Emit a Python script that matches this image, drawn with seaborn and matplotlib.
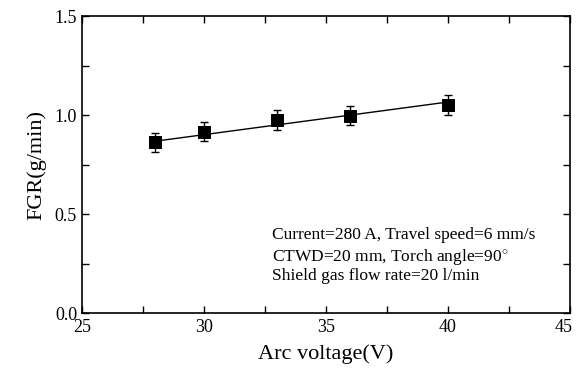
import matplotlib
matplotlib.use("Agg")
import matplotlib.pyplot as plt
import matplotlib.transforms as mtransforms
import seaborn as sns
import pandas as pd
from matplotlib.ticker import MultipleLocator

# data
arc_voltage = [28, 30, 33, 36, 40]
fgr = [0.862, 0.916, 0.975, 0.997, 1.05]
fgr_err = [0.049, 0.049, 0.049, 0.049, 0.049]
fit_x = [28, 40]
fit_y = [0.868, 1.066]

annotation_lines = [
    "Current=280 A, Travel speed=6 mm/s",
    "CTWD=20 mm, Torch angle=90$^{\\circ}$",
    "Shield gas flow rate=20 l/min",
]

sns.set_theme(style="ticks")
plt.rcParams["font.family"] = ["Liberation Serif", "DejaVu Serif"]
plt.rcParams["mathtext.fontset"] = "custom"
plt.rcParams["mathtext.rm"] = "Liberation Serif"

df = pd.DataFrame({"V": arc_voltage, "FGR": fgr, "err": fgr_err})
fit = pd.DataFrame({"V": fit_x, "FGR": fit_y})

fig = plt.figure(figsize=(5.77, 3.74), dpi=100)
ax = fig.add_axes([0.142, 0.163, 0.846, 0.794])

sns.lineplot(data=fit, x="V", y="FGR", ax=ax, color="black", lw=1.0)
ax.errorbar(df["V"], df["FGR"], yerr=df["err"], fmt="none", ecolor="black",
            elinewidth=1.0, capsize=3, capthick=1.0, zorder=3)
sns.scatterplot(data=df, x="V", y="FGR", ax=ax, marker="s", s=80,
                color="black", edgecolor="black", zorder=4)

ax.set_xlim(25, 45)
ax.set_ylim(0, 1.5)
ax.xaxis.set_major_locator(MultipleLocator(5))
ax.xaxis.set_minor_locator(MultipleLocator(2.5))
ax.yaxis.set_major_locator(MultipleLocator(0.5))
ax.yaxis.set_minor_locator(MultipleLocator(0.25))
ax.set_yticklabels([f"{v:.1f}" for v in ax.get_yticks()])
ax.tick_params(which="both", direction="in", top=True, right=True,
               labelsize=13, color="black", labelcolor="black")
ax.tick_params(which="major", length=5, width=1)
ax.tick_params(which="minor", length=5, width=1)
ax.tick_params(axis="x", pad=4)
for sp in ax.spines.values():
    sp.set_color("black")
    sp.set_linewidth(1.2)

# keep the last x tick label inside the figure
fig.canvas.draw()
xlabels = ax.get_xticklabels()
last = [l for l in xlabels if l.get_text() == "45"]
for l in last:
    l.set_transform(l.get_transform() + mtransforms.ScaledTranslation(-6 / 100, 0, fig.dpi_scale_trans))

ax.set_xlabel("Arc voltage(V)", fontsize=16, color="black", labelpad=6)
ax.set_ylabel("FGR(g/min)", fontsize=16, color="black", labelpad=6)

ys = [0.374, 0.258, 0.167]
for t, yv in zip(annotation_lines, ys):
    ax.text(32.8, yv, t, fontsize=12.5, color="black", va="baseline")

fig.savefig("out.png", dpi=100)
